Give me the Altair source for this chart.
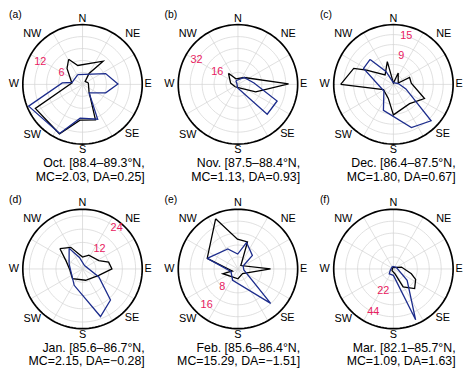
import altair as alt
import numpy as np
import pandas as pd

# ---------------- data ----------------
letters = ["(a)", "(b)", "(c)", "(d)", "(e)", "(f)"]
months = ["Oct.", "Nov.", "Dec.", "Jan.", "Feb.", "Mar."]
lat_ranges = ["88.4–89.3°N", "87.5–88.4°N", "86.4–87.5°N", "85.6–86.7°N", "85.6–86.4°N", "82.1–85.7°N"]
mc_vals = ["2.03", "1.13", "1.80", "2.15", "15.29", "1.09"]
da_vals = ["0.25", "0.93", "0.67", "−0.28", "−1.51", "1.63"]
ring_step = [3, 8, 3, 6, 4, 11]
ring_max = [15, 40, 18, 27, 20, 55]
ring_labels = [[6, 12], [16, 32], [9, 15], [12, 24], [8, 16], [22, 44]]
ring_label_bearing = [298, 300, 15, 40, 221, 205]
compass = ["N", "NE", "E", "SE", "S", "SW", "W", "NW"]
compass_bearing = [0, 45, 90, 135, 180, 225, 270, 315]

# series: bearing (deg, clockwise from N) and value, in drawing order
a_black_dir = [331, 346, 41.6, 31, 42, 77, 139, 160, 184, 205, 243, 277, 316]
a_black_val = [7.2, 4.9, 7.8, 3.2, 1.0, 1.5, 2.5, 9.5, 9.0, 13.7, 13.3, 2.7, 5.6]
a_blue_dir = [334, 65, 89.5, 110, 142, 156.5, 184, 205, 248, 274, 280]
a_blue_val = [2.7, 6.4, 8.9, 6.2, 2.7, 9.55, 8.5, 13.6, 14.6, 5.1, 2.7]

b_black_dir = [319.5, 340, 42, 89.3, 113, 140, 230, 280]
b_black_val = [9.8, 4.0, 6.2, 33.9, 12.9, 3.5, 2.5, 5.0]
b_blue_dir = [330, 42, 85, 113, 135.6, 185, 300]
b_blue_val = [2.8, 6.2, 10.8, 28.5, 28.0, 2.4, 0.8]

c_black_dir = [270, 292, 298, 318.7, 345, 0, 23, 74.6, 67, 86, 114.5, 140, 180, 200, 242]
c_black_val = [15.9, 12.9, 9.2, 3.8, 7.1, 0.4, 3.7, 1.5, 5.3, 5.4, 10.3, 7.6, 9.2, 4.5, 3.4]
c_blue_dir = [317, 330, 0, 80, 110, 134, 157.4, 201, 235, 298]
c_blue_val = [10.3, 4.5, 0.5, 1.5, 4.0, 15.8, 14.1, 8.4, 3.5, 10.2]

d_black_dir = [312, 331.5, 0, 24.6, 62.7, 75.5, 90, 111.5, 164.6, 226, 268, 295]
d_black_val = [13.8, 11.1, 5.4, 6.9, 8.3, 12.2, 13.3, 7.9, 5.3, 6.3, 5.8, 8.1]
d_blue_dir = [327, 345, 30, 116, 138, 159.3, 207, 291]
d_blue_val = [11.1, 5.4, 1.8, 8.2, 18.9, 23.0, 8.3, 6.5]

e_black_dir = [336, 359, 19.4, 40, 90, 136, 180, 252.5, 250, 289]
e_black_val = [18.4, 10.0, 9.6, 1.5, 10.9, 2.2, 3.3, 5.3, 2.0, 10.9]
e_blue_dir = [289, 333, 359, 18, 47, 60, 100, 136.5, 205, 250]
e_blue_val = [10.9, 7.5, 5.0, 9.3, 6.6, 2.0, 2.0, 15.9, 4.2, 2.5]

f_black_dir = [330, 77, 105, 115, 132.7, 151.6, 163, 220]
f_black_val = [1.5, 7.6, 17.1, 22.6, 26.6, 18.8, 4.6, 2.0]
f_blue_dir = [340, 60, 129.7, 156.4, 180, 220, 250]
f_blue_val = [2.5, 3.0, 16.4, 51.1, 5.9, 6.0, 3.0]

series = [
    (a_black_dir, a_black_val, a_blue_dir, a_blue_val),
    (b_black_dir, b_black_val, b_blue_dir, b_blue_val),
    (c_black_dir, c_black_val, c_blue_dir, c_blue_val),
    (d_black_dir, d_black_val, d_blue_dir, d_blue_val),
    (e_black_dir, e_black_val, e_blue_dir, e_blue_val),
    (f_black_dir, f_black_val, f_blue_dir, f_blue_val),
]

# ---------------- layout / style ----------------
R = 60.5            # px radius of outer ring
PW, PH = 146, 172   # panel plot size (px)
CX, CY = 75.5, 75   # ring centre from panel left / top
XD = [-CX, PW - CX]
YD = [-(PH - CY), CY]
FONT = "Liberation Sans"
BLUE = "#1c2c8c"
PINK = "#e8205f"
GRID = "#d2d2d2"


def xy(bearing, r_px):
    t = np.deg2rad(np.asarray(bearing, dtype=float))
    r = np.asarray(r_px, dtype=float)
    return r * np.sin(t), r * np.cos(t)


def panel(i):
    step, vmax = ring_step[i], ring_max[i]
    scale = R / vmax
    xs = alt.Scale(domain=XD, nice=False, zero=False)
    ys = alt.Scale(domain=YD, nice=False, zero=False)
    X = lambda f="x": alt.X(f + ":Q", scale=xs, axis=None)
    Y = lambda f="y": alt.Y(f + ":Q", scale=ys, axis=None)

    # grid rings
    ang = np.linspace(0, 360, 121)
    rows = []
    k = 1
    while k * step < vmax - 1e-9:
        gx, gy = xy(ang, np.full_like(ang, k * step * scale))
        rows += [dict(ring=k, o=j, x=a, y=b) for j, (a, b) in enumerate(zip(gx, gy))]
        k += 1
    rings = alt.Chart(pd.DataFrame(rows)).mark_line(color=GRID, strokeWidth=0.7).encode(
        x=X(), y=Y(), detail="ring:N", order="o:Q")

    # spokes every 30 deg
    sb = np.arange(0, 360, 30)
    sx, sy = xy(sb, np.full(len(sb), R))
    spokes = alt.Chart(pd.DataFrame(dict(x=0.0 * sx, y=0.0 * sy, x2=sx, y2=sy))).mark_rule(
        color=GRID, strokeWidth=0.7).encode(x=X(), y=Y(), x2="x2:Q", y2="y2:Q")

    # outer ring
    ox, oy = xy(ang, np.full_like(ang, R))
    outer = alt.Chart(pd.DataFrame(dict(o=range(len(ang)), x=ox, y=oy))).mark_line(
        color="black", strokeWidth=1.7).encode(x=X(), y=Y(), order="o:Q")

    # data polygons
    bd, bv, ud, uv = series[i]
    rows = []
    for name, d, v in (("black", bd, bv), ("blue", ud, uv)):
        d = list(d) + [d[0]]
        v = list(v) + [v[0]]
        px, py = xy(d, np.asarray(v) * scale)
        rows += [dict(s=name, o=j, x=a, y=b) for j, (a, b) in enumerate(zip(px, py))]
    lines = alt.Chart(pd.DataFrame(rows)).mark_line(strokeWidth=1.3).encode(
        x=X(), y=Y(), order="o:Q", detail="s:N",
        color=alt.Color("s:N", scale=alt.Scale(domain=["black", "blue"], range=["#000000", BLUE]), legend=None))

    # compass labels
    lr = [1.10, 1.19, 1.10, 1.17, 1.10, 1.19, 1.15, 1.19]
    cx_, cy_ = xy(compass_bearing, np.asarray(lr) * R)
    comp = alt.Chart(pd.DataFrame(dict(t=compass, x=cx_, y=cy_))).mark_text(
        font=FONT, fontSize=11, color="black", baseline="middle", align="center").encode(
        x=X(), y=Y(), text="t:N")

    # ring value labels
    rv = ring_labels[i]
    rx, ry = xy([ring_label_bearing[i]] * len(rv), np.asarray(rv) * scale)
    rlab = alt.Chart(pd.DataFrame(dict(t=[str(v) for v in rv], x=rx, y=ry))).mark_text(
        font=FONT, fontSize=11, color=PINK, baseline="middle", align="center").encode(
        x=X(), y=Y(), text="t:N")

    # panel letter
    let = alt.Chart(pd.DataFrame(dict(t=[letters[i]], x=[XD[0] + 1], y=[YD[1]]))).mark_text(
        font=FONT, fontSize=10.5, color="black", baseline="top", align="left").encode(
        x=X(), y=Y(), text="t:N")

    # caption
    cap = pd.DataFrame(dict(
        t=[f"{months[i]} [{lat_ranges[i]},", f"MC={mc_vals[i]}, DA={da_vals[i]}]"],
        x=[63.0, 63.0], y=[-80.0, -93.5]))
    caption = alt.Chart(cap).mark_text(
        font=FONT, fontSize=12.5, color="black", baseline="middle", align="right").encode(
        x=X(), y=Y(), text="t:N")

    return alt.layer(rings, spokes, outer, lines, comp, rlab, let, caption).properties(
        width=PW, height=PH)


row1 = alt.hconcat(panel(0), panel(1), panel(2), spacing=11.5)
row2 = alt.hconcat(panel(3), panel(4), panel(5), spacing=11.5)
chart = alt.vconcat(row1, row2, spacing=12).properties(padding=0).configure_view(stroke=None)

chart.save("out.html", embed_options={"renderer": "svg", "actions": False})
